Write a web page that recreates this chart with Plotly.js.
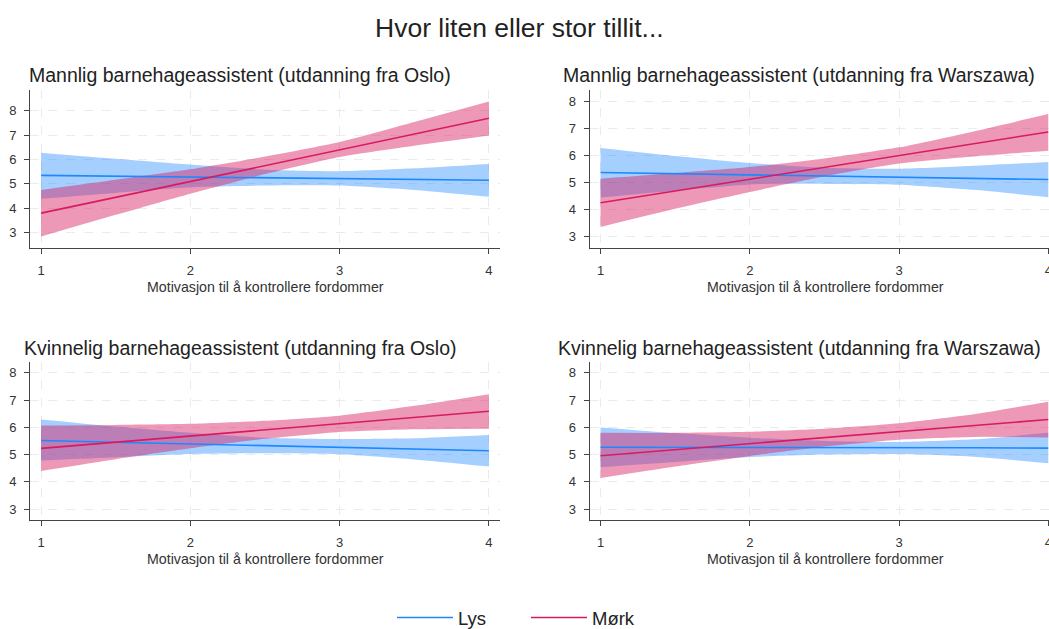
<!DOCTYPE html>
<html>
<head>
<meta charset="utf-8">
<script src="https://cdn.plot.ly/plotly-3.0.1.min.js"></script>
<style>html,body{margin:0;padding:0;background:#fff;width:1049px;height:629px;overflow:hidden;}#chart{position:absolute;left:0;top:0;width:1049px;height:629px;}</style>
</head>
<body>
<div id="chart"></div>
<script>
// x values (Motivasjon til å kontrollere fordommer)
const xVals = [1, 1.5, 2, 2.5, 3, 3.5, 4];

const panelTitles = [
  "Mannlig barnehageassistent (utdanning fra Oslo)",
  "Mannlig barnehageassistent (utdanning fra Warszawa)",
  "Kvinnelig barnehageassistent (utdanning fra Oslo)",
  "Kvinnelig barnehageassistent (utdanning fra Warszawa)"
];
const seriesNames = ["Lys", "Mørk"];
const xTitle = "Motivasjon til å kontrollere fordommer";
const mainTitle = "Hvor liten eller stor tillit...";
const xTicks = [1, 2, 3, 4];
const yTicks = [3, 4, 5, 6, 7, 8];

// Panel 1: Mannlig, Oslo
const p1LysMean = [5.35, 5.32, 5.28, 5.25, 5.22, 5.18, 5.15];
const p1LysLo   = [4.39, 4.63, 4.86, 4.93, 4.93, 4.75, 4.47];
const p1LysHi   = [6.28, 6.03, 5.79, 5.58, 5.52, 5.64, 5.82];
const p1MorkMean = [3.80, 4.45, 5.10, 5.75, 6.40, 7.05, 7.69];
const p1MorkLo   = [2.84, 3.73, 4.60, 5.40, 6.10, 6.56, 6.98];
const p1MorkHi   = [4.75, 5.17, 5.60, 6.12, 6.72, 7.54, 8.38];

// Panel 2: Mannlig, Warszawa
const p2LysMean = [5.38, 5.34, 5.29, 5.25, 5.21, 5.16, 5.12];
const p2LysLo   = [4.46, 4.71, 4.94, 4.96, 4.93, 4.74, 4.47];
const p2LysHi   = [6.29, 5.99, 5.73, 5.56, 5.52, 5.63, 5.77];
const p2MorkMean = [4.26, 4.70, 5.13, 5.57, 6.01, 6.44, 6.88];
const p2MorkLo   = [3.37, 4.04, 4.66, 5.24, 5.71, 5.97, 6.18];
const p2MorkHi   = [5.15, 5.36, 5.58, 5.90, 6.31, 6.90, 7.54];

// Panel 3: Kvinnelig, Oslo
const p3LysMean = [5.52, 5.46, 5.39, 5.33, 5.27, 5.20, 5.14];
const p3LysLo   = [4.78, 4.90, 5.02, 5.05, 5.01, 4.82, 4.56];
const p3LysHi   = [6.29, 6.03, 5.80, 5.62, 5.57, 5.60, 5.72];
const p3MorkMean = [5.23, 5.46, 5.68, 5.91, 6.14, 6.36, 6.59];
const p3MorkLo   = [4.40, 4.83, 5.23, 5.58, 5.83, 5.93, 5.95];
const p3MorkHi   = [6.07, 6.09, 6.13, 6.24, 6.43, 6.79, 7.22];

// Panel 4: Kvinnelig, Warszawa
const p4LysMean = [5.27, 5.27, 5.26, 5.26, 5.25, 5.25, 5.24];
const p4LysLo   = [4.54, 4.73, 4.91, 5.00, 5.02, 4.92, 4.68];
const p4LysHi   = [6.00, 5.79, 5.62, 5.50, 5.46, 5.56, 5.80];
const p4MorkMean = [4.96, 5.18, 5.40, 5.63, 5.85, 6.07, 6.29];
const p4MorkLo   = [4.14, 4.56, 4.95, 5.30, 5.55, 5.65, 5.63];
const p4MorkHi   = [5.80, 5.80, 5.84, 5.95, 6.15, 6.48, 6.94];

const panels = [
  {lys: [p1LysMean, p1LysLo, p1LysHi], mork: [p1MorkMean, p1MorkLo, p1MorkHi]},
  {lys: [p2LysMean, p2LysLo, p2LysHi], mork: [p2MorkMean, p2MorkLo, p2MorkHi]},
  {lys: [p3LysMean, p3LysLo, p3LysHi], mork: [p3MorkMean, p3MorkLo, p3MorkHi]},
  {lys: [p4LysMean, p4LysLo, p4LysHi], mork: [p4MorkMean, p4MorkLo, p4MorkHi]}
];

const lineColors = ["#1E88FF", "#D81B60"];
const bandColors = ["rgba(30,136,255,0.40)", "rgba(216,27,96,0.45)"];

const W = 1049, H = 629;
const px = v => v / W;
const py = v => (H - v) / H;

const traces = [];
panels.forEach((p, i) => {
  const xa = i === 0 ? "x" : "x" + (i + 1);
  const ya = i === 0 ? "y" : "y" + (i + 1);
  const groups = [p.lys, p.mork];
  groups.forEach((g, k) => {
    traces.push({x: xVals, y: g[1], xaxis: xa, yaxis: ya, type: "scatter", mode: "lines",
      line: {width: 0, shape: "spline", smoothing: 0.6}, showlegend: false, hoverinfo: "skip"});
    traces.push({x: xVals, y: g[2], xaxis: xa, yaxis: ya, type: "scatter", mode: "lines",
      line: {width: 0, shape: "spline", smoothing: 0.6}, fill: "tonexty", fillcolor: bandColors[k],
      showlegend: false, hoverinfo: "skip"});
  });
  groups.forEach((g, k) => {
    traces.push({x: xVals, y: g[0], xaxis: xa, yaxis: ya, type: "scatter", mode: "lines",
      name: seriesNames[k], line: {color: lineColors[k], width: 1.6},
      showlegend: i === 0, legendgroup: seriesNames[k]});
  });
});

const FONT = "Liberation Sans, Arial, sans-serif";

const axisCommon = {
  showline: true, linecolor: "#444", linewidth: 1,
  ticks: "outside", ticklen: 5, tickcolor: "#444", tickwidth: 1,
  showgrid: true, gridcolor: "#ebebeb", griddash: "dash", gridwidth: 1,
  zeroline: false, tickfont: {family: FONT, size: 13, color: "#333"},
  ticklabeloverflow: "allow", fixedrange: true
};

const xDomL = [px(30), px(500)];
const xDomR = [px(589.5), 1];
const yDomT = [py(248), py(90)];
const yDomB = [py(520), py(362)];

function xa(dom, range, anchor) {
  return Object.assign({}, axisCommon, {domain: dom, range: range, anchor: anchor,
    tickmode: "array", tickvals: xTicks, ticktext: xTicks.map(String), ticklabelstandoff: 5});
}
function ya(dom, range, anchor) {
  return Object.assign({}, axisCommon, {domain: dom, range: range, anchor: anchor,
    tickmode: "array", tickvals: yTicks, ticktext: yTicks.map(String), ticklabelstandoff: 5});
}

const xRangeL = [0.926, 4.074];
const xRangeR = [0.926, 4.005];

const titleFont = {family: FONT, size: 19.5, color: "#222"};
const axTitleFont = {family: FONT, size: 14.2, color: "#333"};

function ann(text, x, y, font) {
  return {text: text, x: px(x), y: py(y), xref: "paper", yref: "paper", showarrow: false,
    xanchor: "center", yanchor: "middle", font: font};
}

const annotations = [
  ann(mainTitle, 519, 28, {family: FONT, size: 26.5, color: "#222"}),
  ann(panelTitles[0], 239.5, 75, titleFont),
  ann(panelTitles[1], 799, 75, titleFont),
  ann(panelTitles[2], 240, 348, titleFont),
  ann(panelTitles[3], 799, 348, titleFont),
  ann(xTitle, 265, 287, axTitleFont),
  ann(xTitle, 825, 287, axTitleFont),
  ann(xTitle, 265, 559, axTitleFont),
  ann(xTitle, 825, 559, axTitleFont)
];

const layout = {
  width: W, height: H,
  margin: {l: 0, r: 0, t: 0, b: 0, autoexpand: false},
  paper_bgcolor: "#fff", plot_bgcolor: "#fff",
  font: {family: FONT, color: "#333"},
  xaxis: xa(xDomL, xRangeL, "y"),
  yaxis: ya(yDomT, [2.37, 8.85], "x"),
  xaxis2: xa(xDomR, xRangeR, "y2"),
  yaxis2: ya(yDomT, [2.59, 8.43], "x2"),
  xaxis3: xa(xDomL, xRangeL, "y3"),
  yaxis3: ya(yDomB, [2.6, 8.4], "x3"),
  xaxis4: xa(xDomR, xRangeR, "y4"),
  yaxis4: ya(yDomB, [2.6, 8.4], "x4"),
  showlegend: true,
  legend: {orientation: "h", x: px(392), xanchor: "left", y: py(618), yanchor: "middle",
    font: {family: FONT, size: 18.5, color: "#222"},
    itemwidth: 56, entrywidth: 63, entrywidthmode: "pixels", tracegroupgap: 0, bgcolor: "rgba(0,0,0,0)"},
  annotations: annotations
};

Plotly.newPlot("chart", traces, layout, {displayModeBar: false, staticPlot: true});
</script>
</body>
</html>
